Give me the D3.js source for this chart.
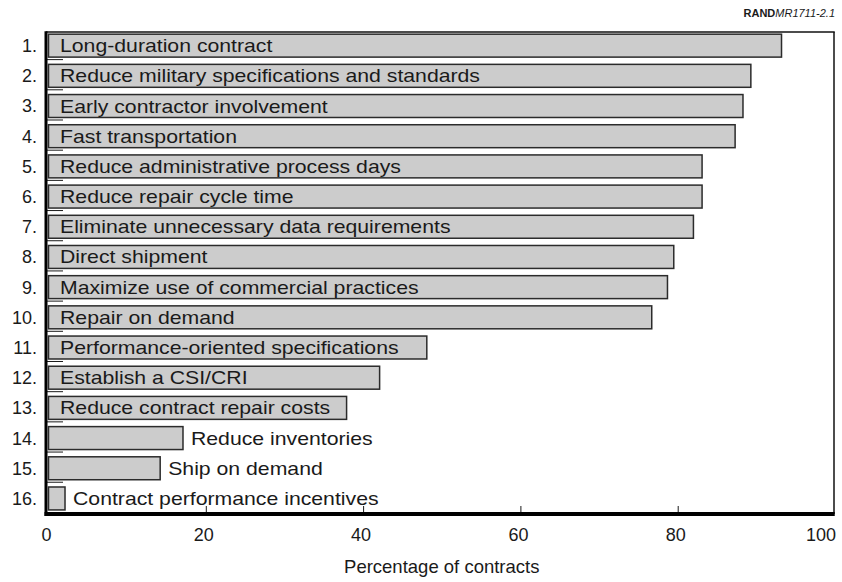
<!doctype html>
<html lang="en">

<head>
  <title>Contract practices</title>
  <meta charset="utf-8">
  <style>
    body { margin: 0; background: #fff; }
    svg text { font-family: "Liberation Sans", Arial, Helvetica, sans-serif; fill: #1a1a1a; }
  </style>
</head>

<body>
  <div id="chart"></div>

  <script src="https://cdnjs.cloudflare.com/ajax/libs/d3/7.8.5/d3.min.js"></script>
  <script>
    // Data ------------------------------------------------------------------------------------------------------------
    const practices = [
      "Long-duration contract",
      "Reduce military specifications and standards",
      "Early contractor involvement",
      "Fast transportation",
      "Reduce administrative process days",
      "Reduce repair cycle time",
      "Eliminate unnecessary data requirements",
      "Direct shipment",
      "Maximize use of commercial practices",
      "Repair on demand",
      "Performance-oriented specifications",
      "Establish a CSI/CRI",
      "Reduce contract repair costs",
      "Reduce inventories",
      "Ship on demand",
      "Contract performance incentives"
    ];
    const percentages = [93.2, 89.3, 88.3, 87.3, 83.1, 83.1, 82.0, 79.5, 78.7, 76.7, 48.1, 42.1, 37.9, 17.1, 14.2, 2.1];
    const xTicks = [0, 20, 40, 60, 80, 100];
    const xTitle = "Percentage of contracts";

    // Canvas ----------------------------------------------------------------------------------------------------------
    const width = 842;
    const height = 582;
    const plotLeft = 46, plotRight = 834, plotTop = 32, plotBottom = 514;

    const svg = d3.select("#chart")
      .append("svg")
      .attr("width", width)
      .attr("height", height);

    const x = d3.scaleLinear()
      .domain([0, 100])
      .range([48.5, 835]);

    const y = d3.scaleBand()
      .domain(d3.range(practices.length))
      .range([plotTop, plotBottom + 1])
      .paddingInner(0.24)
      .paddingOuter(0.12)
      .align(0.3);

    // Frame -----------------------------------------------------------------------------------------------------------
    svg.append("line")
      .attr("x1", plotLeft).attr("x2", plotRight + 0.75)
      .attr("y1", plotTop).attr("y2", plotTop)
      .style("stroke", "#111").style("stroke-width", 1.5);

    svg.append("line")
      .attr("x1", plotRight).attr("x2", plotRight)
      .attr("y1", plotTop).attr("y2", plotBottom)
      .style("stroke", "#111").style("stroke-width", 1.5);

    // Bars ------------------------------------------------------------------------------------------------------------
    svg.append("g")
      .selectAll("rect")
      .data(percentages)
      .enter()
      .append("rect")
      .attr("x", x(0))
      .attr("y", (d, i) => y(i))
      .attr("width", d => x(d) - x(0))
      .attr("height", y.bandwidth())
      .style("fill", "#cccccc")
      .style("stroke", "#2b2b2b")
      .style("stroke-width", 1.5);

    // Bar labels: inside when the bar is long enough, otherwise right of it.
    // The original lettering is wider than Liberation Sans, so stretch it a bit.
    svg.append("g")
      .selectAll("text")
      .data(practices)
      .enter()
      .append("text")
      .attr("transform", (d, i) => {
        const tx = percentages[i] > 30 ? 60 : x(percentages[i]) + 8;
        return "translate(" + tx + "," + (y(i) + y.bandwidth() / 2) + ") scale(1.18,1)";
      })
      .attr("dy", "0.36em")
      .style("font-size", "18px")
      .text(d => d);

    // Row numbers
    svg.append("g")
      .selectAll("text")
      .data(practices)
      .enter()
      .append("text")
      .attr("x", 37)
      .attr("y", (d, i) => y(i) + y.bandwidth() / 2)
      .attr("dy", "0.36em")
      .attr("text-anchor", "end")
      .style("font-size", "18px")
      .text((d, i) => (i + 1) + ".");

    // Short separators on the left axis
    svg.append("g")
      .selectAll("line")
      .data(practices.slice(0, -1))
      .enter()
      .append("line")
      .attr("x1", plotLeft)
      .attr("x2", 63)
      .attr("y1", (d, i) => y(i) + y.bandwidth() + 2.5)
      .attr("y2", (d, i) => y(i) + y.bandwidth() + 2.5)
      .style("stroke", "#1a1a1a")
      .style("stroke-width", 1);

    // X axis ----------------------------------------------------------------------------------------------------------
    const xAxis = svg.append("g")
      .attr("transform", "translate(0," + plotBottom + ")")
      .call(
        d3.axisTop(x)
        .tickValues(xTicks.slice(1, -1))
        .tickFormat("")
        .tickSize(8)
      );

    xAxis.select(".domain").remove();
    xAxis.selectAll("line")
      .style("stroke", "#1a1a1a")
      .style("stroke-width", 1);

    svg.append("g")
      .selectAll("text")
      .data(xTicks)
      .enter()
      .append("text")
      .attr("x", d => d === 100 ? x(d) - 14 : x(d) - 2)
      .attr("y", 541)
      .attr("text-anchor", "middle")
      .style("font-size", "18px")
      .text(d => d);

    svg.append("text")
      .attr("x", (x(0) + x(100)) / 2)
      .attr("y", 573)
      .attr("text-anchor", "middle")
      .style("font-size", "18.5px")
      .text(xTitle);

    // Thick axes lines
    svg.append("line")
      .attr("x1", plotLeft).attr("x2", plotLeft)
      .attr("y1", plotTop - 0.75).attr("y2", plotBottom + 2)
      .style("stroke", "#000").style("stroke-width", 3);

    svg.append("line")
      .attr("x1", plotLeft - 1.5).attr("x2", plotRight + 0.75)
      .attr("y1", plotBottom).attr("y2", plotBottom)
      .style("stroke", "#000").style("stroke-width", 4);

    // Figure id -------------------------------------------------------------------------------------------------------
    const figId = svg.append("text")
      .attr("x", 835)
      .attr("y", 17)
      .attr("text-anchor", "end")
      .style("font-size", "11px");

    figId.append("tspan").style("font-weight", "bold").text("RAND");
    figId.append("tspan").style("font-style", "italic").text("MR1711-2.1");
  </script>

</body>

</html>
